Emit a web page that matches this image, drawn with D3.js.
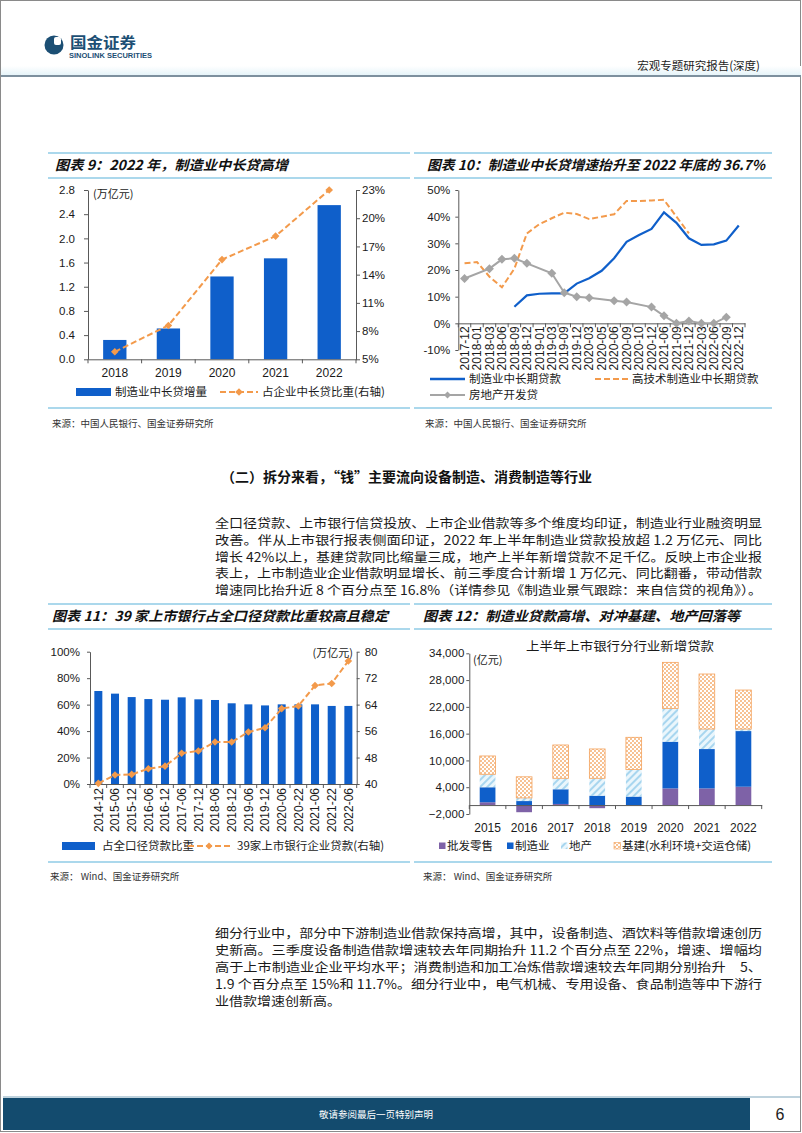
<!DOCTYPE html>
<html><head><meta charset="utf-8">
<script src="https://cdn.jsdelivr.net/npm/d3@7"></script>
<style>
html,body{margin:0;padding:0;background:#fff;}
svg{display:block;}
</style></head><body>
<svg id="page" width="802" height="1133"></svg>
<script>
// ---------------- DATA ----------------
const c9Years = ["2018","2019","2020","2021","2022"];
const c9Loans = [0.32, 0.51, 1.37, 1.67, 2.55];
const c9Share = [5.8, 8.6, 15.6, 18.1, 23.0];
const c9LeftTicks = [0, 0.4, 0.8, 1.2, 1.6, 2.0, 2.4, 2.8];
const c9RightTicks = [5, 8, 11, 14, 17, 20, 23];

const c10Dates = ["2017-12","2018-01","2018-03","2018-06","2018-09","2018-12","2019-01","2019-03","2019-09","2019-12","2020-03","2020-05","2020-06","2020-09","2020-10","2020-12","2021-06","2021-09","2021-12","2022-03","2022-06","2022-09","2022-12"];
const c10Mfg = [null,null,null,null,6.2,10.5,11.1,11.2,11.2,14.9,16.9,19.7,24.4,30.6,33.1,35.4,41.6,37.7,31.9,29.4,29.6,31.0,36.7];
const c10HighTech = [22.5,23.0,17.5,13.5,20.5,33.7,37.2,39.4,41.5,41.0,39.1,40.0,40.9,45.9,45.9,46.1,46.3,40.0,33.7,null,null,null,null];
const c10RealEstate = [16.8,null,20.5,24.0,24.4,22.5,null,18.8,11.5,10.0,9.6,null,8.5,8.0,null,6.1,2.8,0.0,0.9,0.0,0.0,2.3,null];
const c10Ticks = [-10, 0, 10, 20, 30, 40, 50];

const c11Dates = ["2014-12","2015-06","2015-12","2016-06","2016-12","2017-06","2017-12","2018-06","2018-12","2019-06","2019-12","2020-06","2020-22","2021-06","2021-22","2022-06"];
const c11Share = [70.3,68.3,65.7,64.2,63.7,65.5,64.0,63.5,61.0,60.2,59.4,60.2,60.2,60.2,59.0,59.0];
const c11Loans = [40.2,42.7,42.9,44.6,45.4,49.3,50.0,52.7,52.7,55.7,57.0,62.8,63.6,69.8,70.4,77.2];
const c11LeftTicks = [0, 20, 40, 60, 80, 100];
const c11RightTicks = [40, 48, 56, 64, 72, 80];

const c12Years = ["2015","2016","2017","2018","2019","2020","2021","2022"];
const c12Retail = [630, -1600, 250, -700, 0, 3735, 3735, 4110];
const c12Mfg = [3360, 900, 3290, 2100, 1900, 10460, 8815, 12470];
const c12RealEstate = [2910, 700, 2460, 3900, 6050, 7470, 4480, 450];
const c12Infra = [4100, 4730, 7460, 6570, 7230, 10310, 12330, 8740];
const c12Ticks = [-2000, 4000, 10000, 16000, 22000, 28000, 34000];
const c12Keys = ["批发零售","制造业","地产","基建(水利环境+交运仓储)"];

const para1 = [
 "全口径贷款、上市银行信贷投放、上市企业借款等多个维度均印证，制造业行业融资明显",
 "改善。伴从上市银行报表侧面印证，2022 年上半年制造业贷款投放超 1.2 万亿元、同比",
 "增长 42%以上，基建贷款同比缩量三成，地产上半年新增贷款不足千亿。反映上市企业报",
 "表上，上市制造业企业借款明显增长、前三季度合计新增 1 万亿元、同比翻番，带动借款",
 "增速同比抬升近 8 个百分点至 16.8%（详情参见《制造业景气跟踪：来自信贷的视角》）。"
];
const para2 = [
 "细分行业中，部分中下游制造业借款保持高增，其中，设备制造、酒饮料等借款增速创历",
 "史新高。三季度设备制造借款增速较去年同期抬升 11.2 个百分点至 22%，增速、增幅均",
 "高于上市制造业企业平均水平；消费制造和加工冶炼借款增速较去年同期分别抬升　5、",
 "1.9 个百分点至 15%和 11.7%。细分行业中，电气机械、专用设备、食品制造等中下游行",
 "业借款增速创新高。"
];

// ---------------- STYLE ----------------
const BLUE = "#0f5fca", ORANGE = "#f39a4b", GRAY = "#a5a5a5", PURPLE = "#7e62a7", RULE = "#8fcbe6";
const CJK = "'Noto Sans CJK SC', sans-serif";
const NUM = "'Liberation Sans', Arial, sans-serif";
const AX = "#595959", TXT = "#1a1a1a";

const svg = d3.select("#page");
const defs = svg.append("defs");

// patterns
const hatch = defs.append("pattern").attr("id","hatch").attr("patternUnits","userSpaceOnUse")
  .attr("width",5).attr("height",5).attr("patternTransform","rotate(-45)");
hatch.append("rect").attr("width",5).attr("height",5).attr("fill","#eaf6fc");
hatch.append("rect").attr("width",5).attr("height",2).attr("fill","#a8d6ef");
const dots = defs.append("pattern").attr("id","dots").attr("patternUnits","userSpaceOnUse")
  .attr("width",4).attr("height",4);
dots.append("rect").attr("width",4).attr("height",4).attr("fill","#fff");
dots.append("circle").attr("cx",1).attr("cy",1).attr("r",0.95).attr("fill","#f4a865");
dots.append("circle").attr("cx",3).attr("cy",3).attr("r",0.95).attr("fill","#f4a865");
const hg = defs.append("linearGradient").attr("id","hband").attr("x1",0).attr("x2",0).attr("y1",0).attr("y2",1);
hg.append("stop").attr("offset","0").attr("stop-color","#ffffff");
hg.append("stop").attr("offset","1").attr("stop-color","#e6f4f9");

// ---------------- PAGE FRAME / HEADER ----------------
svg.append("rect").attr("x",0.5).attr("y",0.5).attr("width",800).attr("height",1131)
  .attr("fill","none").attr("stroke","#8a8a8a");
svg.append("rect").attr("x",1).attr("y",66).attr("width",800).attr("height",9).attr("fill","url(#hband)");
svg.append("line").attr("x1",1).attr("x2",801).attr("y1",76).attr("y2",76).attr("stroke","#7d909e").attr("stroke-width",2);

// logo
const logo = svg.append("g");
logo.append("circle").attr("cx",54).attr("cy",45).attr("r",9.5).attr("fill","#1c4f74");
logo.append("rect").attr("x",54).attr("y",37).attr("width",7).attr("height",8).attr("rx",2).attr("fill","#fff");
logo.append("text").attr("x",70).attr("y",48).text("国金证券")
  .attr("font-family",CJK).attr("font-weight","bold").attr("font-size",15).attr("fill","#1c4f74")
  .attr("textLength",66).attr("lengthAdjust","spacingAndGlyphs");
logo.append("text").attr("x",69).attr("y",57.5).text("SINOLINK SECURITIES")
  .attr("font-family",NUM).attr("font-weight","bold").attr("font-size",7.5).attr("fill","#1c4f74")
  .attr("textLength",83).attr("lengthAdjust","spacingAndGlyphs");
svg.append("text").attr("x",760).attr("y",70).attr("text-anchor","end").text("宏观专题研究报告(深度)")
  .attr("font-family",CJK).attr("font-size",11.5).attr("fill","#222");

// ---------------- HELPERS ----------------
function rules(x0, x1, ys){
  ys.forEach(y => svg.append("line").attr("x1",x0).attr("x2",x1).attr("y1",y).attr("y2",y)
    .attr("stroke",RULE).attr("stroke-width",1.5));
}
function title(x, y, t, w){
  svg.append("text").attr("x",x).attr("y",y).text(t)
    .attr("font-family",CJK).attr("font-weight","bold").attr("font-style","italic")
    .attr("font-size",13.5).attr("fill","#111").attr("textLength",w).attr("lengthAdjust","spacingAndGlyphs");
}
function source(x, y, t){
  svg.append("text").attr("x",x).attr("y",y).text(t)
    .attr("font-family",CJK).attr("font-size",9.5).attr("fill","#333");
}
function styleAxis(g, fs){
  g.attr("font-family",NUM).attr("font-size",fs);
  g.select(".domain").attr("stroke",AX);
  g.selectAll(".tick line").attr("stroke",AX);
  g.selectAll(".tick text").attr("fill",TXT);
}
function bandTicks(g, x, y, len){
  const n = x.domain().length, r = x.range(), s = (r[1]-r[0])/n;
  g.selectAll(null).data(d3.range(n+1)).join("line")
    .attr("x1", i => r[0]+i*s).attr("x2", i => r[0]+i*s)
    .attr("y1", y).attr("y2", y+len).attr("stroke",AX);
}
function diamondPath(cx, cy, r){ return `M${cx},${cy-r}L${cx+r},${cy}L${cx},${cy+r}L${cx-r},${cy}Z`; }
function legendText(x, y, t, fs){
  svg.append("text").attr("x",x).attr("y",y).text(t)
    .attr("font-family",CJK).attr("font-size",fs||11).attr("fill",TXT);
}

// ---------------- CHART 9 ----------------
rules(48, 410, [153, 178, 408]);
title(55, 170, "图表 9：2022 年，制造业中长贷高增", 233);
{
  const g = svg.append("g");
  const x = d3.scaleBand().domain(c9Years).range([88, 356]).paddingInner(0.565).paddingOuter(0.2825);
  const yL = d3.scaleLinear().domain([0, 2.8]).range([359.3, 190]);
  const yR = d3.scaleLinear().domain([5, 23]).range([359.3, 190]);
  g.selectAll("rect.bar").data(c9Years).join("rect").attr("class","bar")
    .attr("x", d => x(d)).attr("width", x.bandwidth())
    .attr("y", (d,i) => yL(c9Loans[i])).attr("height", (d,i) => yL(0)-yL(c9Loans[i])).attr("fill",BLUE);
  const ga = g.append("g").attr("transform","translate(88,0)")
    .call(d3.axisLeft(yL).tickValues(c9LeftTicks).tickFormat(d3.format(".1f")).tickSize(4).tickPadding(9).tickSizeOuter(0));
  styleAxis(ga, 11.5);
  const gr = g.append("g").attr("transform","translate(356,0)")
    .call(d3.axisRight(yR).tickValues(c9RightTicks).tickFormat(d => d+"%").tickSize(4).tickPadding(2).tickSizeOuter(0));
  styleAxis(gr, 11.5);
  const gx = g.append("g").attr("transform","translate(0,359.3)")
    .call(d3.axisBottom(x).tickSize(0).tickPadding(9).tickSizeOuter(0));
  styleAxis(gx, 12);
  bandTicks(g, x, 359.3, 4);
  const cx = d => x(d) + x.bandwidth()/2;
  const pts = c9Years.map((d,i) => [cx(d), yR(c9Share[i])]);
  g.append("path").attr("d", d3.line()(pts)).attr("fill","none").attr("stroke",ORANGE)
    .attr("stroke-width",2).attr("stroke-dasharray","6,3");
  g.selectAll("path.mk").data(pts).join("path").attr("class","mk")
    .attr("d", p => diamondPath(p[0], p[1], 3.8)).attr("fill",ORANGE);
  legendText(93, 198, "(万亿元)", 11);
  svg.append("rect").attr("x",76).attr("y",388).attr("width",35).attr("height",8).attr("fill",BLUE);
  legendText(115, 396, "制造业中长贷增量", 11.5);
  svg.append("line").attr("x1",220).attr("x2",258).attr("y1",392).attr("y2",392)
    .attr("stroke",ORANGE).attr("stroke-width",2).attr("stroke-dasharray","6,3");
  svg.append("path").attr("d",diamondPath(239,392,3.8)).attr("fill",ORANGE);
  legendText(262, 396, "占企业中长贷比重(右轴)", 11.5);
}
source(52, 427, "来源：中国人民银行、国金证券研究所");

// ---------------- CHART 10 ----------------
rules(414, 772, [153, 178, 408]);
title(427, 170, "图表 10：制造业中长贷增速抬升至 2022 年底的 36.7%", 338);
{
  const g = svg.append("g");
  const x = d3.scaleBand().domain(c10Dates).range([458.3, 745]).padding(0);
  const y = d3.scaleLinear().domain([-10, 50]).range([350, 190]);
  const ga = g.append("g").attr("transform","translate(458.3,0)")
    .call(d3.axisLeft(y).tickValues(c10Ticks).tickFormat(d => d+"%").tickSize(3).tickPadding(5).tickSizeOuter(0));
  styleAxis(ga, 11.5);
  const gx = g.append("g").attr("transform",`translate(0,${y(0)})`)
    .call(d3.axisBottom(x).tickSize(0).tickSizeOuter(0));
  styleAxis(gx, 12);
  gx.selectAll(".tick text").attr("transform","rotate(-90)").attr("text-anchor","end")
    .attr("x",-3).attr("y",0).attr("dy","0.35em");
  bandTicks(g, x, y(0), 4);
  const cx = d => x(d) + x.bandwidth()/2;
  const series = arr => c10Dates.map((d,i) => [cx(d), arr[i]]).filter(p => p[1] !== null).map(p => [p[0], y(p[1])]);
  g.append("path").attr("d", d3.line()(series(c10Mfg))).attr("fill","none").attr("stroke",BLUE).attr("stroke-width",2.2);
  g.append("path").attr("d", d3.line()(series(c10HighTech))).attr("fill","none").attr("stroke",ORANGE)
    .attr("stroke-width",2).attr("stroke-dasharray","6,3");
  const re = series(c10RealEstate);
  g.append("path").attr("d", d3.line()(re)).attr("fill","none").attr("stroke",GRAY).attr("stroke-width",2);
  g.selectAll("path.mk").data(re).join("path").attr("class","mk")
    .attr("d", p => diamondPath(p[0], p[1], 4.5)).attr("fill",GRAY);
  // legend
  svg.append("line").attr("x1",430).attr("x2",465).attr("y1",379).attr("y2",379).attr("stroke",BLUE).attr("stroke-width",2.5);
  legendText(469, 383, "制造业中长期贷款", 11.5);
  svg.append("line").attr("x1",595).attr("x2",628).attr("y1",379).attr("y2",379)
    .attr("stroke",ORANGE).attr("stroke-width",2).attr("stroke-dasharray","6,3");
  legendText(632, 383, "高技术制造业中长期贷款", 11.5);
  svg.append("line").attr("x1",430).attr("x2",465).attr("y1",395).attr("y2",395).attr("stroke",GRAY).attr("stroke-width",2);
  svg.append("path").attr("d",diamondPath(447.5,395,3.5)).attr("fill",GRAY);
  legendText(469, 399, "房地产开发贷", 11.5);
}
source(425, 427, "来源：中国人民银行、国金证券研究所");

// ---------------- TEXT SECTION ----------------
svg.append("text").attr("x",221).attr("y",482).text("（二）拆分来看，“钱”主要流向设备制造、消费制造等行业")
  .attr("font-family",CJK).attr("font-weight","bold").attr("font-size",13.5).attr("fill","#111")
  .attr("textLength",371).attr("lengthAdjust","spacingAndGlyphs");
function paragraph(lines, y0, lh){
  lines.forEach((t, i) => {
    const full = i < lines.length - 1 || t.length > 30;
    const el = svg.append("text").attr("x",215).attr("y",y0 + i*lh).text(t)
      .attr("font-family",CJK).attr("font-size",12.5).attr("fill","#1a1a1a");
    if (full) el.attr("textLength",547).attr("lengthAdjust","spacingAndGlyphs");
    else el.attr("textLength", t.length*14).attr("lengthAdjust","spacingAndGlyphs");
  });
}
paragraph(para1, 528, 16.8);
paragraph(para2, 938, 17);

// ---------------- CHART 11 ----------------
rules(48, 410, [604, 629, 862]);
title(52, 621, "图表 11：39 家上市银行占全口径贷款比重较高且稳定", 336);
{
  const g = svg.append("g");
  const x = d3.scaleBand().domain(c11Dates).range([90, 356.7]).paddingInner(0.52).paddingOuter(0.26);
  const yL = d3.scaleLinear().domain([0, 100]).range([784, 651.7]);
  const yR = d3.scaleLinear().domain([40, 80]).range([784, 651.7]);
  g.selectAll("rect.bar").data(c11Dates).join("rect").attr("class","bar")
    .attr("x", d => x(d)).attr("width", x.bandwidth())
    .attr("y", (d,i) => yL(c11Share[i])).attr("height", (d,i) => yL(0)-yL(c11Share[i])).attr("fill",BLUE);
  const ga = g.append("g").attr("transform","translate(90,0)")
    .call(d3.axisLeft(yL).tickValues(c11LeftTicks).tickFormat(d => d+"%").tickSize(3).tickPadding(7).tickSizeOuter(0));
  styleAxis(ga, 11.5);
  const gr = g.append("g").attr("transform","translate(356.7,0)")
    .call(d3.axisRight(yR).tickValues(c11RightTicks).tickSize(3).tickPadding(5).tickSizeOuter(0));
  styleAxis(gr, 11.5);
  const gx = g.append("g").attr("transform","translate(0,784)")
    .call(d3.axisBottom(x).tickSize(0).tickSizeOuter(0));
  styleAxis(gx, 12);
  gx.selectAll(".tick text").attr("transform","rotate(-90)").attr("text-anchor","end")
    .attr("x",-4).attr("y",0).attr("dy","0.35em");
  bandTicks(g, x, 784, 4);
  const cx = d => x(d) + x.bandwidth()/2;
  const pts = c11Dates.map((d,i) => [cx(d), yR(c11Loans[i])]);
  g.append("path").attr("d", d3.line()(pts)).attr("fill","none").attr("stroke",ORANGE)
    .attr("stroke-width",2).attr("stroke-dasharray","6,3");
  g.selectAll("path.mk").data(pts).join("path").attr("class","mk")
    .attr("d", p => diamondPath(p[0], p[1], 3.8)).attr("fill",ORANGE);
  svg.append("text").attr("x",353).attr("y",657).attr("text-anchor","end").text("(万亿元)")
    .attr("font-family",CJK).attr("font-size",11).attr("fill",TXT);
  svg.append("rect").attr("x",62).attr("y",842).attr("width",33).attr("height",8).attr("fill",BLUE);
  legendText(102, 850, "占全口径贷款比重", 11.5);
  svg.append("line").attr("x1",188).attr("x2",230).attr("y1",846).attr("y2",846)
    .attr("stroke",ORANGE).attr("stroke-width",2).attr("stroke-dasharray","6,3");
  svg.append("path").attr("d",diamondPath(209,846,3.5)).attr("fill",ORANGE);
  legendText(237, 850, "39家上市银行企业贷款(右轴)", 11.5);
}
source(50, 880, "来源：  Wind、国金证券研究所");

// ---------------- CHART 12 ----------------
rules(414, 772, [604, 629, 862]);
title(423, 621, "图表 12：制造业贷款高增、对冲基建、地产回落等", 317);
{
  const g = svg.append("g");
  const x = d3.scaleBand().domain(c12Years).range([469.3, 761.7]).paddingInner(0.57).paddingOuter(0.285);
  const y = d3.scaleLinear().domain([-2000, 34000]).range([814, 653.3]);
  const rows = c12Years.map((yr,i) => ({year: yr, "批发零售": c12Retail[i], "制造业": c12Mfg[i],
    "地产": c12RealEstate[i], "基建(水利环境+交运仓储)": c12Infra[i]}));
  const stack = d3.stack().keys(c12Keys).offset(d3.stackOffsetDiverging)(rows);
  const fills = ["#7e62a7", BLUE, "url(#hatch)", "url(#dots)"];
  stack.forEach((s, k) => {
    g.selectAll(null).data(s).join("rect")
      .attr("x", d => x(d.data.year)).attr("width", x.bandwidth())
      .attr("y", d => y(Math.max(d[0], d[1]))).attr("height", d => Math.abs(y(d[0]) - y(d[1])))
      .attr("fill", fills[k])
      .attr("stroke", k === 3 ? "#f4a25c" : "none").attr("stroke-width", 0.8);
  });
  const ga = g.append("g").attr("transform","translate(469.3,0)")
    .call(d3.axisLeft(y).tickValues(c12Ticks).tickFormat(d3.format(",")).tickSize(3).tickPadding(2).tickSizeOuter(0));
  styleAxis(ga, 11.5);
  const gx = g.append("g").attr("transform",`translate(0,${y(0)})`)
    .call(d3.axisBottom(x).tickSize(0).tickSizeOuter(0));
  gx.selectAll(".tick text").remove();
  styleAxis(gx, 12);
  bandTicks(g, x, y(0), 4);
  g.selectAll("text.xl").data(c12Years).join("text").attr("class","xl")
    .attr("x", d => x(d) + x.bandwidth()/2).attr("y", 832).attr("text-anchor","middle").text(d => d)
    .attr("font-family",NUM).attr("font-size",12).attr("fill",TXT);
  svg.append("text").attr("x",620).attr("y",651).attr("text-anchor","middle").text("上半年上市银行分行业新增贷款")
    .attr("font-family",CJK).attr("font-size",12.5).attr("fill",TXT)
    .attr("textLength",188).attr("lengthAdjust","spacingAndGlyphs");
  svg.append("text").attr("x",473).attr("y",664).text("(亿元)")
    .attr("font-family",CJK).attr("font-size",11).attr("fill",TXT);
  const lx = [439, 507, 561, 614];
  c12Keys.forEach((k, i) => {
    svg.append("rect").attr("x",lx[i]).attr("y",842.5).attr("width",6.5).attr("height",6.5).attr("fill",fills[i])
      .attr("stroke", i === 3 ? "#f4a25c" : "none").attr("stroke-width",0.6);
    legendText(lx[i] + 8, 850, k, 11.5);
  });
}
source(423, 880, "来源：  Wind、国金证券研究所");

// ---------------- FOOTER ----------------
svg.append("line").attr("x1",3).attr("x2",800).attr("y1",1097).attr("y2",1097).attr("stroke","#a9c3d2").attr("stroke-width",1.5);
svg.append("rect").attr("x",3).attr("y",1098).attr("width",747).attr("height",32).attr("fill","#134b6e");
svg.append("text").attr("x",376).attr("y",1118).attr("text-anchor","middle").text("敬请参阅最后一页特别声明")
  .attr("font-family",CJK).attr("font-size",9.5).attr("fill","#fff");
svg.append("text").attr("x",780).attr("y",1120).attr("text-anchor","middle").text("6")
  .attr("font-family",NUM).attr("font-size",16).attr("fill","#222");
</script></body></html>
